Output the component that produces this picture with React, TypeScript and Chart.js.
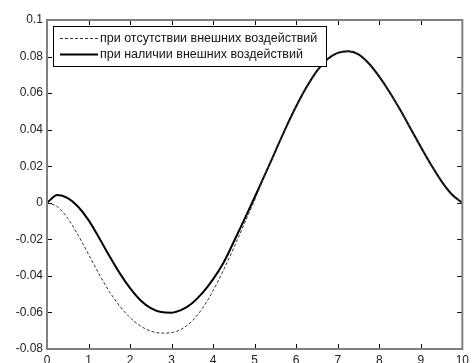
import React, { useEffect, useRef } from "react";
import { Chart, registerables } from "chart.js";

Chart.register(...registerables);

const xValues = [
  0, 0.25, 0.5, 0.75, 1, 1.25, 1.5, 1.75, 2, 2.25, 2.5, 2.75, 3, 3.25, 3.5, 3.75, 4,
  4.25, 4.5, 4.75, 5, 5.25, 5.5, 5.75, 6, 6.25, 6.5, 6.75, 7, 7.25, 7.5, 7.75, 8,
  8.25, 8.5, 8.75, 9, 9.25, 9.5, 9.75, 10,
];

const withEffects = [
  0, 0.0042, 0.0025, -0.0022, -0.0095, -0.019, -0.029, -0.0385, -0.0467, -0.0533,
  -0.0577, -0.0598, -0.0601, -0.0585, -0.0548, -0.0492, -0.0418, -0.0328, -0.0212,
  -0.0092, 0.003, 0.0155, 0.0283, 0.041, 0.0528, 0.0633, 0.0722, 0.0785, 0.082,
  0.0829, 0.0812, 0.0762, 0.069, 0.0605, 0.051, 0.0408, 0.0305, 0.0207, 0.0117, 0.0045, 0,
];

const withoutEffects = [
  0, -0.0022, -0.0085, -0.0178, -0.0282, -0.0388, -0.0485, -0.0565, -0.0628, -0.0674,
  -0.0702, -0.0713, -0.071, -0.069, -0.0645, -0.0575, -0.048, -0.0368, -0.0245,
  -0.0115, 0.0015, 0.0155, 0.0283, 0.041, 0.0528, 0.0633, 0.0722, 0.0785, 0.082,
  0.0829, 0.0812, 0.0762, 0.069, 0.0605, 0.051, 0.0408, 0.0305, 0.0207, 0.0117, 0.0045, 0,
];

const xTicks = [0, 1, 2, 3, 4, 5, 6, 7, 8, 9, 10];
const yTicks = [-0.08, -0.06, -0.04, -0.02, 0, 0.02, 0.04, 0.06, 0.08, 0.1];

const labelWithout = "при отсутствии внешних воздействий";
const labelWith = "при наличии внешних воздействий";

const FONT = "'Liberation Sans', Arial, sans-serif";

const fmt = (v: number) => String(parseFloat(v.toFixed(2)));

const framePlugin = {
  id: "matlabFrame",
  afterDraw(chart: any) {
    const ctx = chart.ctx;
    const { left, right, top, bottom } = chart.chartArea;
    const xs = chart.scales.x;
    const ys = chart.scales.y;
    ctx.save();
    ctx.strokeStyle = "#000";
    ctx.lineWidth = 1;
    ctx.beginPath();
    const tl = 5;
    xTicks.forEach((t) => {
      const px = Math.round(xs.getPixelForValue(t)) + 0.5;
      ctx.moveTo(px, bottom);
      ctx.lineTo(px, bottom - tl);
      ctx.moveTo(px, top);
      ctx.lineTo(px, top + tl);
    });
    yTicks.forEach((t) => {
      const py = Math.round(ys.getPixelForValue(t)) + 0.5;
      ctx.moveTo(left, py);
      ctx.lineTo(left + tl, py);
      ctx.moveTo(right, py);
      ctx.lineTo(right - tl, py);
    });
    ctx.stroke();
    ctx.strokeStyle = "#808080";
    ctx.lineWidth = 2;
    ctx.strokeRect(left, top, right - left, bottom - top);

    const ds = chart.data.datasets;
    const bx = 53.5, by = 26.5, bw = 273, bh = 40;
    ctx.fillStyle = "#fff";
    ctx.fillRect(bx, by, bw, bh);
    ctx.strokeStyle = "#000";
    ctx.lineWidth = 1;
    ctx.strokeRect(bx, by, bw, bh);
    const rows = [38.5, 54.5];
    ds.forEach((d: any, i: number) => {
      ctx.save();
      ctx.strokeStyle = d.borderColor;
      ctx.lineWidth = d.borderWidth;
      ctx.setLineDash(d.borderDash || []);
      ctx.beginPath();
      ctx.moveTo(60, rows[i]);
      ctx.lineTo(98, rows[i]);
      ctx.stroke();
      ctx.restore();
      ctx.fillStyle = "#111";
      ctx.font = `12.5px ${FONT}`;
      ctx.textBaseline = "middle";
      ctx.textAlign = "left";
      ctx.fillText(d.label, 100, rows[i] + 0.5);
    });
    ctx.restore();
  },
};

export default function App() {
  const ref = useRef<HTMLCanvasElement | null>(null);
  useEffect(() => {
    document.body.style.margin = "0";
    document.body.style.overflow = "hidden";
    const canvas = ref.current!;
    const chart = new Chart(canvas, {
      type: "line",
      data: {
        datasets: [
          {
            label: labelWithout,
            data: xValues.map((x, i) => ({ x, y: withoutEffects[i] })),
            borderColor: "#333",
            borderWidth: 1,
            borderDash: [3, 2],
            pointRadius: 0,
            cubicInterpolationMode: "monotone",
            fill: false,
          },
          {
            label: labelWith,
            data: xValues.map((x, i) => ({ x, y: withEffects[i] })),
            borderColor: "#000",
            borderWidth: 2,
            pointRadius: 0,
            cubicInterpolationMode: "monotone",
            fill: false,
          },
        ],
      },
      options: {
        animation: false,
        responsive: false,
        layout: { padding: { top: 20, right: 8, left: 0, bottom: 0 } },
        plugins: { legend: { display: false }, tooltip: { enabled: false } },
        scales: {
          x: {
            type: "linear",
            min: 0,
            max: 10,
            afterBuildTicks: (s: any) => {
              s.ticks = xTicks.map((v) => ({ value: v }));
            },
            afterFit: (s: any) => {
              s.height = 14;
            },
            grid: { display: false, drawTicks: false },
            border: { display: false },
            ticks: {
              padding: 4,
              color: "#222",
              font: { family: FONT, size: 12 },
              maxRotation: 0,
              autoSkip: false,
              callback: (v: any) => fmt(Number(v)),
            },
          },
          y: {
            type: "linear",
            min: -0.08,
            max: 0.1,
            afterBuildTicks: (s: any) => {
              s.ticks = yTicks.map((v) => ({ value: v }));
            },
            afterFit: (s: any) => {
              s.width = 47;
            },
            grid: { display: false, drawTicks: false },
            border: { display: false },
            ticks: {
              padding: 4,
              color: "#222",
              font: { family: FONT, size: 12 },
              autoSkip: false,
              callback: (v: any) => fmt(Number(v)),
            },
          },
        },
      },
      plugins: [framePlugin],
    } as any);
    return () => chart.destroy();
  }, []);
  return <canvas ref={ref} width={473} height={363} style={{ display: "block" }} />;
}
